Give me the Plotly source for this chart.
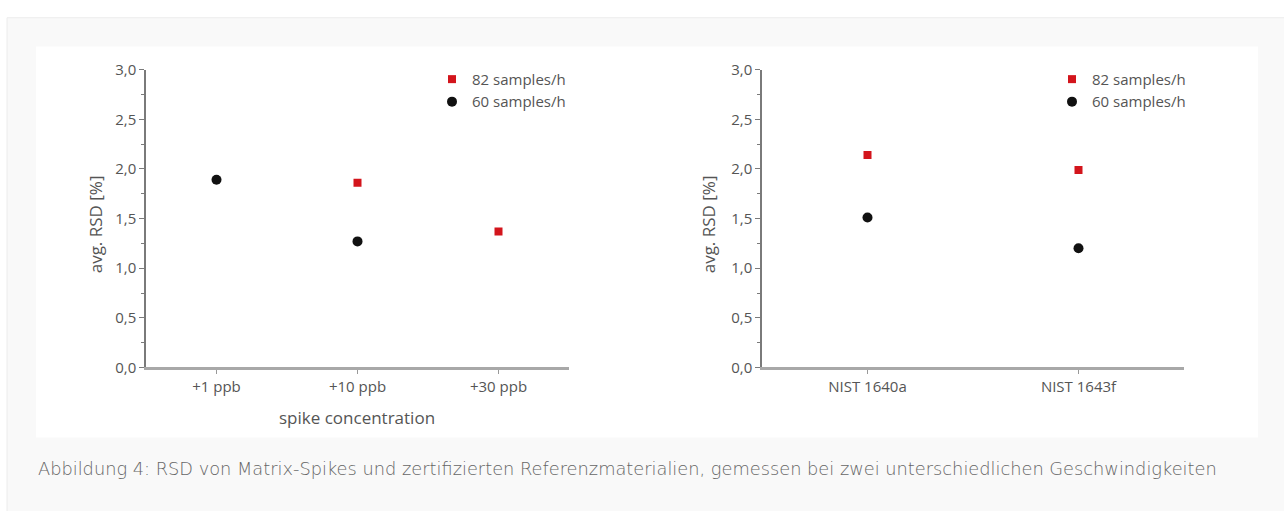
import plotly.graph_objects as go

W, H = 1284, 511

# ---- data ----
spike_categories = ["+1 ppb", "+10 ppb", "+30 ppb"]
spike_82 = [None, 1.86, 1.37]
spike_60 = [1.89, 1.27, None]

crm_categories = ["NIST 1640a", "NIST 1643f"]
crm_82 = [2.14, 1.99]
crm_60 = [1.51, 1.20]

series_names = ["82 samples/h", "60 samples/h"]
y_ticks = [0, 0.5, 1.0, 1.5, 2.0, 2.5, 3.0]

caption = ("Abbildung 4: RSD von Matrix-Spikes und zertifizierten Referenzmaterialien, "
           "gemessen bei zwei unterschiedlichen Geschwindigkeiten")

RED = "#d3151c"
BLACK = "#111111"
AX = "#7a7a7a"
TXT = "#555555"
FONT = "Open Sans"


def px(x):
    return x / W


def py(y):
    return 1 - y / H


fig = go.Figure()

fig.add_trace(go.Scatter(x=spike_categories, y=spike_82, mode="markers", name=series_names[0],
                         marker=dict(symbol="square", size=8, color=RED),
                         xaxis="x", yaxis="y", legend="legend"))
fig.add_trace(go.Scatter(x=spike_categories, y=spike_60, mode="markers", name=series_names[1],
                         marker=dict(symbol="circle", size=10, color=BLACK),
                         xaxis="x", yaxis="y", legend="legend"))
fig.add_trace(go.Scatter(x=crm_categories, y=crm_82, mode="markers", name=series_names[0],
                         marker=dict(symbol="square", size=8, color=RED),
                         xaxis="x2", yaxis="y2", legend="legend2"))
fig.add_trace(go.Scatter(x=crm_categories, y=crm_60, mode="markers", name=series_names[1],
                         marker=dict(symbol="circle", size=10, color=BLACK),
                         xaxis="x2", yaxis="y2", legend="legend2"))

ydom = [py(371), py(61)]

yaxis_common = dict(
    range=[0, 3.0], tickvals=y_ticks, tickformat=".1f",
    showgrid=False, zeroline=False, showline=True, linecolor=AX, linewidth=1.5,
    ticks="outside", ticklen=5, tickcolor=AX, tickwidth=1.2,
    minor=dict(dtick=0.25, ticks="outside", ticklen=3, tickcolor=AX, tickwidth=1),
    tickfont=dict(family=FONT, size=15, color=TXT), domain=ydom, fixedrange=True,
)
xaxis_common = dict(
    type="category", showgrid=False, zeroline=False, showline=True,
    linecolor="#a8a8a8", linewidth=2.5, ticks="outside", ticklen=4, tickcolor="#999999",
    tickfont=dict(family=FONT, size=15, color=TXT), fixedrange=True,
)

legend_font = dict(family=FONT, size=15, color=TXT)

fig.update_layout(
    width=W, height=H, margin=dict(l=0, r=0, t=0, b=0),
    paper_bgcolor="white", plot_bgcolor="white",
    separators=",.",
    xaxis=dict(**xaxis_common, domain=[px(146), px(569)], range=[-0.5, 2.5], anchor="y"),
    yaxis=dict(**yaxis_common, anchor="x"),
    xaxis2=dict(**xaxis_common, domain=[px(762), px(1184)], range=[-0.5, 1.5], anchor="y2"),
    yaxis2=dict(**yaxis_common, anchor="x2"),
    legend=dict(x=px(432), y=py(54), xanchor="left", yanchor="top",
                font=legend_font, bgcolor="rgba(0,0,0,0)"),
    legend2=dict(x=px(1052), y=py(54), xanchor="left", yanchor="top",
                 font=legend_font, bgcolor="rgba(0,0,0,0)"),
    showlegend=True,
)

# page background, border and white image panel
fig.add_shape(type="rect", xref="paper", yref="paper", x0=px(7), x1=px(1300), y0=py(530), y1=py(7),
              fillcolor="#f9f9f9", line=dict(color="#ececec", width=1), layer="below")
fig.add_shape(type="rect", xref="paper", yref="paper", x0=px(36), x1=px(1258), y0=py(444), y1=py(37),
              fillcolor="white", line=dict(width=0), layer="below")

ann = []
for xp in (95, 708):
    ann.append(dict(text="avg. RSD [%]", x=px(xp), y=py(222), xref="paper", yref="paper",
                    xanchor="center", yanchor="middle",
                    textangle=-90, showarrow=False, font=dict(family=FONT, size=17, color=TXT)))
ann.append(dict(text="spike concentration", x=px(357), y=py(423), xref="paper", yref="paper",
                xanchor="center", yanchor="middle",
                showarrow=False, font=dict(family=FONT, size=17, color=TXT)))
ann.append(dict(text=caption, x=px(36), y=py(476), xref="paper", yref="paper",
                xanchor="left", yanchor="middle",
                showarrow=False, font=dict(family="DejaVu Sans", size=17.8, color="#666666", weight=200)))
fig.update_layout(annotations=ann)

fig.write_html("out.html", config={"displayModeBar": False})
